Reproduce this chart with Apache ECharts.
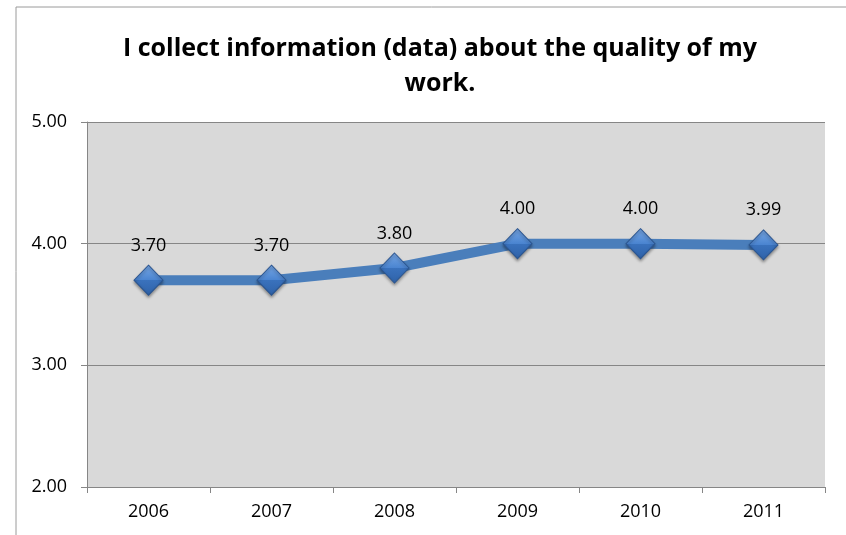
<!DOCTYPE html>
<html>
<head>
    <meta charset="UTF-8">
    <title>Quality of my work</title>
    <script src="https://cdn.jsdelivr.net/npm/echarts/dist/echarts.min.js"></script>
    <style>
        body { margin: 0; background: #fff; }
    </style>
</head>
<body>
    <div id="chart" style="width: 846px;height:535px;"></div>
    <script type="text/javascript">
        var myChart = echarts.init(document.getElementById('chart'));

        // data
        var years = ['2006', '2007', '2008', '2009', '2010', '2011'];
        var scores = [3.70, 3.70, 3.80, 4.00, 4.00, 3.99];
        var titleText = 'I collect information (data) about the quality of my\nwork.';

        var fontName = 'Open Sans';

        var option = {
            backgroundColor: '#fff',
            animation: false,
            title: {
                text: titleText,
                left: 435,
                textAlign: 'center',
                top: 26,
                textStyle: {
                    fontFamily: fontName,
                    fontSize: 25,
                    fontWeight: 'bold',
                    color: '#000',
                    lineHeight: 35
                }
            },
            graphic: [
                {
                    // outer chart frame (left and top edges visible)
                    type: 'rect',
                    shape: { x: 16, y: 7, width: 840, height: 560 },
                    style: { fill: 'none', stroke: '#9a9a9a', lineWidth: 1 },
                    silent: true
                }
            ],
            grid: {
                left: 87,
                right: 21,
                top: 122,
                bottom: 48,
                show: true,
                backgroundColor: '#d9d9d9',
                borderWidth: 0
            },
            xAxis: {
                type: 'category',
                data: years,
                boundaryGap: true,
                axisLine: { lineStyle: { color: '#868686', width: 1 } },
                axisTick: { show: true, length: 6, alignWithLabel: false, lineStyle: { color: '#868686' } },
                axisLabel: {
                    fontFamily: fontName,
                    fontSize: 18,
                    color: '#000',
                    margin: 16
                }
            },
            yAxis: {
                type: 'value',
                min: 2,
                max: 5,
                interval: 1,
                axisLine: { show: true, lineStyle: { color: '#868686', width: 1 } },
                axisTick: { show: true, length: 6, lineStyle: { color: '#868686' } },
                splitLine: { show: true, lineStyle: { color: '#868686', width: 1 } },
                axisLabel: {
                    fontFamily: fontName,
                    fontSize: 18,
                    color: '#000',
                    margin: 20,
                    formatter: function (value) {
                        return value.toFixed(2);
                    }
                }
            },
            series: [
                {
                    name: 'Score',
                    type: 'line',
                    data: scores,
                    symbol: 'diamond',
                    symbolSize: [29, 30],
                    lineStyle: { color: '#4a7ebb', width: 10 },
                    itemStyle: {
                        color: new echarts.graphic.LinearGradient(0, 0, 0, 1, [
                            { offset: 0, color: '#78a8e6' },
                            { offset: 0.5, color: '#4a84d0' },
                            { offset: 0.5, color: '#3a72bd' },
                            { offset: 1, color: '#2f62a8' }
                        ]),
                        borderColor: '#2b5590',
                        borderWidth: 1,
                        shadowColor: 'rgba(0,0,0,0.35)',
                        shadowBlur: 3,
                        shadowOffsetY: 2
                    },
                    label: {
                        show: true,
                        position: 'top',
                        distance: 10,
                        fontFamily: fontName,
                        fontSize: 18,
                        color: '#000',
                        formatter: function (params) {
                            return params.value.toFixed(2);
                        }
                    }
                }
            ]
        };

        myChart.setOption(option);
    </script>
</body>
</html>
